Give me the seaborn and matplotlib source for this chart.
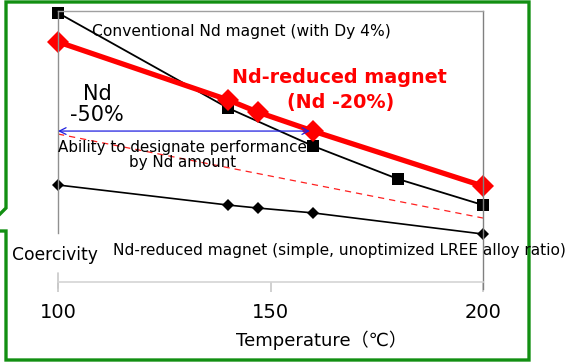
import matplotlib
matplotlib.use("Agg")
import matplotlib.pyplot as plt
import seaborn as sns

sns.set_theme(style="white")
plt.rcParams['font.family'] = ['DejaVu Sans', 'Noto Sans CJK JP']
plt.rcParams['text.color'] = 'black'

# Data (coercivity in arbitrary units)
temp_conv = [100, 140, 160, 180, 200]
coer_conv = [99.3, 64.2, 50.2, 38.0, 28.4]

temp_reduced = [100, 140, 147, 160, 200]
coer_reduced = [88.6, 67.2, 62.7, 55.7, 35.4]

temp_simple = [100, 140, 147, 160, 200]
coer_simple = [35.8, 28.4, 27.3, 25.5, 17.7]

temp_target = [100, 200]
coer_target = [54.6, 23.6]

arrow_temp = [100, 159.3]
arrow_coer = 55.7

x_ticks = [100, 150, 200]

W, H = 569, 363
fig = plt.figure(figsize=(W / 100, H / 100), dpi=100)

# green speech-bubble frame drawn in pixel space
bg = fig.add_axes([0, 0, 1, 1])
bg.set_xlim(0, W)
bg.set_ylim(H, 0)
bg.axis('off')
frame_x = [-6, 6, 6, 529, 529, 6, 6, -6]
frame_y = [220, 208, 2, 2, 360, 360, 231, 231]
bg.plot(frame_x, frame_y, color='#128f12', lw=2.4, solid_joinstyle='miter', clip_on=False)

ax = fig.add_axes([58 / W, (H - 282) / H, (483 - 58) / W, (282 - 11) / H])
ax.set_facecolor('none')
ax.set_xlim(100, 200)
ax.set_ylim(0, 100)

sns.lineplot(x=temp_target, y=coer_target, ax=ax, color='#ff2020', lw=0.9,
             linestyle=(0, (5, 4)))
sns.lineplot(x=temp_simple, y=coer_simple, ax=ax, color='black', lw=1.2,
             marker='D', markersize=6.5, markeredgewidth=0, clip_on=False)
sns.lineplot(x=temp_conv, y=coer_conv, ax=ax, color='black', lw=1.3,
             marker='s', markersize=9, markeredgewidth=0, clip_on=False)
sns.lineplot(x=temp_reduced, y=coer_reduced, ax=ax, color='#ff0000', lw=3.8,
             marker='D', markersize=11, markeredgewidth=0, clip_on=False)

ax.annotate('', xy=(arrow_temp[0], arrow_coer), xytext=(arrow_temp[1], arrow_coer),
            arrowprops=dict(arrowstyle='<->', color='#2020e0', lw=0.9,
                            shrinkA=0, shrinkB=0))

# spines
for s in ['left', 'top', 'right', 'bottom']:
    ax.spines[s].set_visible(True)
ax.spines['left'].set_color('#909090')
ax.spines['left'].set_bounds(18.1, 100)
ax.spines['top'].set_color('#a0a0a0')
ax.spines['right'].set_color('#808080')
ax.spines['right'].set_bounds(-2.6, 100)
ax.spines['bottom'].set_color('#d4d4d4')
ax.spines['bottom'].set_linewidth(1.2)
for s in ['left', 'top', 'right']:
    ax.spines[s].set_linewidth(1.0)
ax.axvline(100, ymin=-0.022, ymax=0.034, color='#c8c8c8', lw=1.2, clip_on=False)

ax.set_xticks(x_ticks)
ax.set_xticklabels([str(t) for t in x_ticks])
ax.set_yticks([])
ax.tick_params(axis='x', direction='out', length=7, width=1.2, color='#c8c8c8',
               pad=8, labelsize=14, labelcolor='black', bottom=True)

ax.set_xlabel('Temperature（℃）', fontsize=13, color='black')
ax.xaxis.set_label_coords(0.619, -0.214)
ax.xaxis.label.set_verticalalignment('center')

# annotations
ax.text(108.0, 92.3, 'Conventional Nd magnet (with Dy 4%)', fontsize=11.2,
        ha='left', va='center')
ax.text(140.9, 75.3, 'Nd-reduced magnet', fontsize=13.8, fontweight='bold',
        color='#ff0000', ha='left', va='center')
ax.text(166.4, 66.4, '(Nd -20%)', fontsize=13.8, fontweight='bold',
        color='#ff0000', ha='center', va='center')
ax.text(109.2, 65.5, 'Nd\n-50%', fontsize=15, ha='center', va='center',
        linespacing=1.05)
ax.text(129.3, 46.9, 'Ability to designate performance\nby Nd amount',
        fontsize=10.9, ha='center', va='center', linespacing=1.0)
ax.text(89.2, 10.0, 'Coercivity', fontsize=12.3, ha='left', va='center',
        clip_on=False)
ax.text(112.9, 11.8, 'Nd-reduced magnet (simple, unoptimized LREE alloy ratio)',
        fontsize=11.1, ha='left', va='center', clip_on=False)

fig.savefig('out.png', dpi=100)
